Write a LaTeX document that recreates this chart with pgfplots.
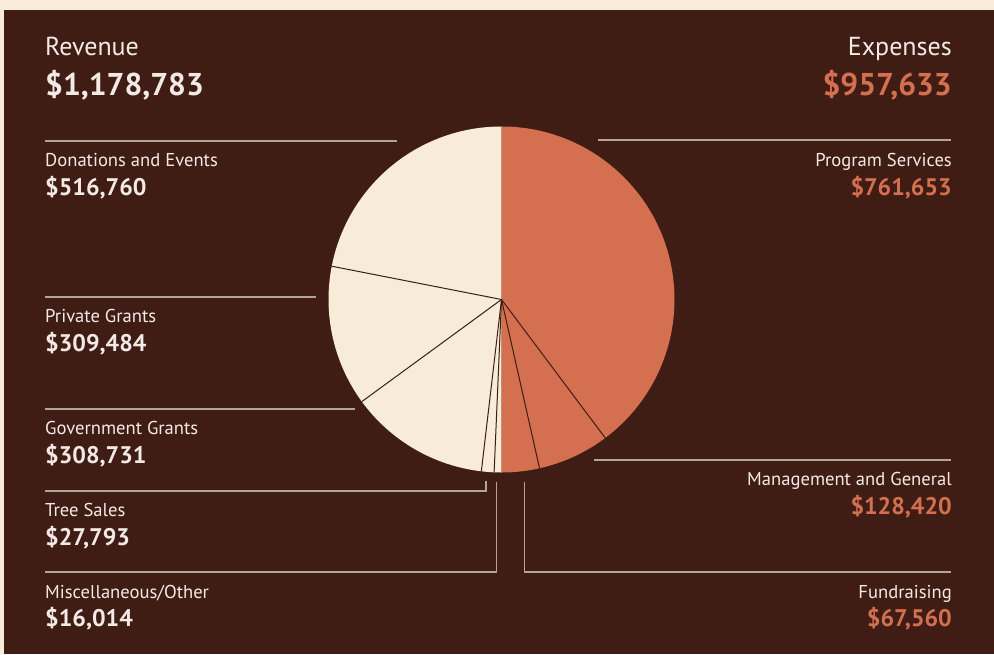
\documentclass[border=0pt]{standalone}
\usepackage{fontspec}
\setmainfont{PT Sans}
\usepackage{pgfplots}
\usepackage{pgfplotstable}
\pgfplotsset{compat=1.18}

\definecolor{bg}{HTML}{3F1D15}
\definecolor{cream}{HTML}{F8EBD7}
\definecolor{rust}{HTML}{D4704F}
\definecolor{rulec}{HTML}{B3A39F}
\definecolor{ink}{HTML}{F3EAE6}

\pgfplotstableread[col sep=comma]{
item,value
Donations and Events,516760
Private Grants,309484
Government Grants,308731
Tree Sales,27793
Miscellaneous/Other,16014
}\revenue
\pgfplotstableread[col sep=comma]{
item,value
Program Services,761653
Management and General,128420
Fundraising,67560
}\expenses

% pie centre and radius (axis units = pt)
\def\cx{501.5}
\def\cy{354.5}
\def\rad{173}

% #1 table, #2 prefix, #3 direction (1 = counter-clockwise, -1 = clockwise)
\newcommand\pieangles[3]{%
  \pgfplotstablegetrowsof{#1}%
  \edef\last{\the\numexpr\pgfplotsretval-1\relax}%
  \def\tot{0}%
  \pgfplotsforeachungrouped \i in {0,...,\last}{%
    \pgfplotstablegetelem{\i}{value}\of#1%
    \edef\tot{\fpeval{\tot+\pgfplotsretval}}%
  }%
  \def\ang{90}%
  \pgfplotsforeachungrouped \i in {0,...,\last}{%
    \pgfplotstablegetelem{\i}{value}\of#1%
    \expandafter\edef\csname #2s\i\endcsname{\ang}%
    \expandafter\edef\csname #2x\i\endcsname{\fpeval{round(\cx+\rad*cosd(\ang),3)}}%
    \expandafter\edef\csname #2y\i\endcsname{\fpeval{round(\cy+\rad*sind(\ang),3)}}%
    \edef\ang{\fpeval{round(\ang+#3*180*\pgfplotsretval/\tot,4)}}%
    \expandafter\edef\csname #2e\i\endcsname{\ang}%
  }%
}
\pieangles{\revenue}{rev}{1}
\pieangles{\expenses}{exp}{-1}

\newcommand\lab[1]{{\fontsize{18.6}{22}\selectfont\color{ink}#1}}
\newcommand\num[2]{{\fontsize{24}{28}\selectfont\bfseries\color{#1}#2}}

\begin{document}
\begin{tikzpicture}
\begin{axis}[
  x=1pt, y=1pt,
  xmin=0, xmax=994, ymin=0, ymax=654,
  scale only axis, hide axis, clip=false,
]
% background
\fill[cream] (axis cs:0,0) rectangle (axis cs:994,654);
\fill[bg] (axis cs:4,0) rectangle (axis cs:994,644);

% revenue wedges (left half)
\pgfplotsinvokeforeach{0,...,4}{
  \edef\temp{\noexpand\fill[cream] (axis cs:\cx,\cy) -- (axis cs:\csname revx#1\endcsname,\csname revy#1\endcsname)
    arc[start angle=\csname revs#1\endcsname, end angle=\csname reve#1\endcsname, radius=\rad pt] -- cycle;}
  \temp
}
% expense wedges (right half)
\pgfplotsinvokeforeach{0,...,2}{
  \edef\temp{\noexpand\fill[rust] (axis cs:\cx,\cy) -- (axis cs:\csname expx#1\endcsname,\csname expy#1\endcsname)
    arc[start angle=\csname exps#1\endcsname, end angle=\csname expe#1\endcsname, radius=\rad pt] -- cycle;}
  \temp
}
% separators
\pgfplotsinvokeforeach{1,...,4}{
  \edef\temp{\noexpand\draw[bg, line width=1pt] (axis cs:\cx,\cy) -- (axis cs:\csname revx#1\endcsname,\csname revy#1\endcsname);}
  \temp
}
\pgfplotsinvokeforeach{1,2}{
  \edef\temp{\noexpand\draw[bg, line width=1pt] (axis cs:\cx,\cy) -- (axis cs:\csname expx#1\endcsname,\csname expy#1\endcsname);}
  \temp
}

% leader rules
\draw[rulec, line width=1.2pt] (axis cs:45,513) -- (axis cs:397,513);
\draw[rulec, line width=1.2pt] (axis cs:45,357) -- (axis cs:316,357);
\draw[rulec, line width=1.2pt] (axis cs:45,245) -- (axis cs:355,245);
\draw[rulec, line width=1.2pt] (axis cs:45,163) -- (axis cs:486,163) -- (axis cs:486,173);
\draw[rulec, line width=1.2pt] (axis cs:45,82) -- (axis cs:496.5,82) -- (axis cs:496.5,172);
\draw[rulec, line width=1.2pt] (axis cs:598,514) -- (axis cs:951,514);
\draw[rulec, line width=1.2pt] (axis cs:594,194) -- (axis cs:951,194);
\draw[rulec, line width=1.2pt] (axis cs:951,82) -- (axis cs:524.5,82) -- (axis cs:524.5,172);

% headers
\node[anchor=base west, inner sep=0pt, text=ink, font=\fontsize{26}{30}\selectfont] at (axis cs:45,598.5) {Revenue};
\node[anchor=base west, inner sep=0pt, text=ink, font=\fontsize{31.5}{36}\selectfont\bfseries] at (axis cs:45,558.5) {\$1,178,783};
\node[anchor=base east, inner sep=0pt, text=ink, font=\fontsize{26}{30}\selectfont] at (axis cs:952,598.5) {Expenses};
\node[anchor=base east, inner sep=0pt, text=rust, font=\fontsize{31.5}{36}\selectfont\bfseries] at (axis cs:952,558.5) {\$957,633};

% revenue labels
\node[anchor=base west, inner sep=0pt] at (axis cs:45,487) {\lab{Donations and Events}};
\node[anchor=base west, inner sep=0pt] at (axis cs:45,458.5) {\num{ink}{\$516,760}};
\node[anchor=base west, inner sep=0pt] at (axis cs:45,331) {\lab{Private Grants}};
\node[anchor=base west, inner sep=0pt] at (axis cs:45,302.5) {\num{ink}{\$309,484}};
\node[anchor=base west, inner sep=0pt] at (axis cs:45,219) {\lab{Government Grants}};
\node[anchor=base west, inner sep=0pt] at (axis cs:45,190.5) {\num{ink}{\$308,731}};
\node[anchor=base west, inner sep=0pt] at (axis cs:45,137) {\lab{Tree Sales}};
\node[anchor=base west, inner sep=0pt] at (axis cs:45,108.5) {\num{ink}{\$27,793}};
\node[anchor=base west, inner sep=0pt] at (axis cs:45,56) {\lab{Miscellaneous/Other}};
\node[anchor=base west, inner sep=0pt] at (axis cs:45,27.5) {\num{ink}{\$16,014}};

% expense labels
\node[anchor=base east, inner sep=0pt] at (axis cs:952,487) {\lab{Program Services}};
\node[anchor=base east, inner sep=0pt] at (axis cs:952,458.5) {\num{rust}{\$761,653}};
\node[anchor=base east, inner sep=0pt] at (axis cs:952,168) {\lab{Management and General}};
\node[anchor=base east, inner sep=0pt] at (axis cs:952,139.5) {\num{rust}{\$128,420}};
\node[anchor=base east, inner sep=0pt] at (axis cs:952,56) {\lab{Fundraising}};
\node[anchor=base east, inner sep=0pt] at (axis cs:952,27.5) {\num{rust}{\$67,560}};
\end{axis}
\end{tikzpicture}
\end{document}
